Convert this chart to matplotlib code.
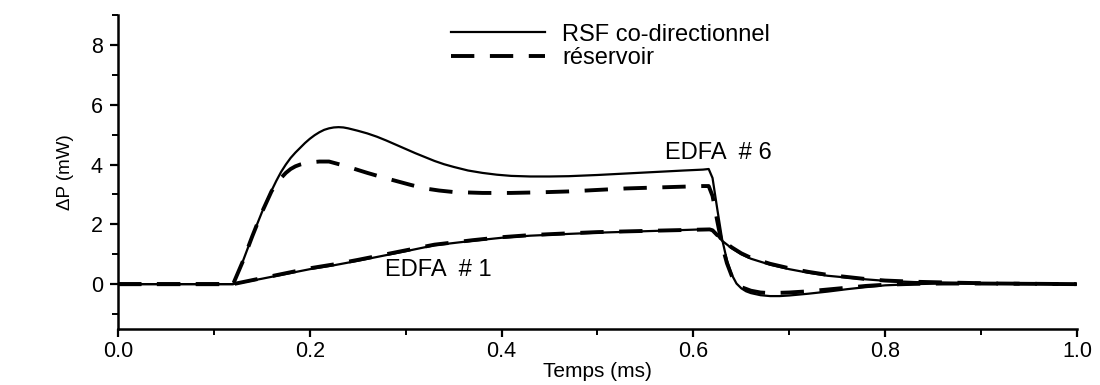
import matplotlib
matplotlib.use("Agg")
import matplotlib.pyplot as plt
from matplotlib.ticker import MultipleLocator, FormatStrFormatter

plt.rcParams['font.family'] = ['Liberation Sans', 'DejaVu Sans']

# EDFA #6, RSF co-directionnel (solid)
t_rsf6 = [0.0, 0.05, 0.10, 0.12, 0.13, 0.14, 0.15, 0.16, 0.165, 0.17, 0.175, 0.18, 0.185,
          0.19, 0.195, 0.20, 0.205, 0.21, 0.215, 0.22, 0.225, 0.23, 0.235, 0.24, 0.25,
          0.26, 0.27, 0.28, 0.29, 0.30, 0.31, 0.32, 0.33, 0.34, 0.35, 0.365, 0.38,
          0.395, 0.41, 0.43, 0.45, 0.47, 0.50, 0.53, 0.56, 0.59, 0.61, 0.616, 0.620,
          0.625, 0.630, 0.635, 0.640, 0.645, 0.650, 0.655, 0.660, 0.670, 0.680, 0.690,
          0.700, 0.720, 0.740, 0.760, 0.780, 0.800, 0.830, 0.860, 0.900, 0.950, 1.0]
p_rsf6 = [0.0, 0.0, 0.0, 0.0, 0.75, 1.6, 2.4, 3.12, 3.45, 3.75, 4.0, 4.22, 4.4,
          4.56, 4.72, 4.86, 4.98, 5.08, 5.16, 5.21, 5.24, 5.25, 5.24, 5.21, 5.13,
          5.04, 4.93, 4.8, 4.66, 4.52, 4.38, 4.25, 4.12, 4.01, 3.92, 3.8, 3.72,
          3.66, 3.62, 3.6, 3.6, 3.61, 3.65, 3.7, 3.75, 3.8, 3.83, 3.85, 3.55,
          2.5, 1.5, 0.8, 0.32, 0.02, -0.14, -0.24, -0.3, -0.37, -0.4, -0.4,
          -0.38, -0.32, -0.25, -0.17, -0.1, -0.04, 0.0, 0.02, 0.02, 0.01, 0.0]

# EDFA #6, reservoir (dashed)
t_res6 = [0.0, 0.05, 0.10, 0.12, 0.13, 0.14, 0.15, 0.16, 0.165, 0.17, 0.175, 0.18, 0.185,
          0.19, 0.195, 0.20, 0.21, 0.22, 0.235, 0.25, 0.26, 0.275, 0.29, 0.305, 0.32,
          0.335, 0.35, 0.38, 0.41, 0.44, 0.47, 0.50, 0.53, 0.56, 0.59, 0.61, 0.616,
          0.620, 0.625, 0.630, 0.635, 0.640, 0.645, 0.650, 0.660, 0.670, 0.680, 0.700,
          0.720, 0.740, 0.760, 0.780, 0.800, 0.830, 0.860, 0.900, 0.950, 1.0]
p_res6 = [0.0, 0.0, 0.0, 0.0, 0.75, 1.6, 2.4, 3.1, 3.35, 3.55, 3.72, 3.85, 3.94,
          4.0, 4.04, 4.07, 4.1, 4.1, 3.97, 3.82, 3.72, 3.58, 3.45, 3.32, 3.2,
          3.13, 3.08, 3.05, 3.05, 3.07, 3.1, 3.15, 3.2, 3.23, 3.26, 3.28, 3.28,
          2.95, 2.1, 1.3, 0.7, 0.28, 0.03, -0.1, -0.22, -0.28, -0.3, -0.28,
          -0.24, -0.18, -0.12, -0.06, -0.02, 0.01, 0.02, 0.02, 0.01, 0.0]

# EDFA #1, RSF co-directionnel (solid)
t_rsf1 = [0.0, 0.05, 0.10, 0.12, 0.15, 0.20, 0.225, 0.25, 0.30, 0.33, 0.37, 0.40, 0.43,
          0.47, 0.50, 0.55, 0.59, 0.617, 0.62, 0.63, 0.64, 0.65, 0.66, 0.68, 0.70,
          0.72, 0.74, 0.76, 0.78, 0.80, 0.83, 0.87, 0.92, 1.0]
p_rsf1 = [0.0, 0.0, 0.0, 0.0, 0.18, 0.5, 0.63, 0.78, 1.1, 1.3, 1.45, 1.55, 1.62,
          1.68, 1.72, 1.77, 1.81, 1.84, 1.8, 1.45, 1.2, 1.0, 0.85, 0.65, 0.5,
          0.38, 0.28, 0.22, 0.16, 0.11, 0.07, 0.04, 0.02, 0.0]

# EDFA #1, reservoir (dashed)
t_res1 = [0.0, 0.05, 0.10, 0.12, 0.15, 0.20, 0.225, 0.25, 0.30, 0.33, 0.37, 0.40, 0.43,
          0.47, 0.50, 0.55, 0.59, 0.617, 0.62, 0.63, 0.64, 0.65, 0.66, 0.68, 0.70,
          0.72, 0.74, 0.76, 0.78, 0.80, 0.83, 0.87, 0.92, 1.0]
p_res1 = [0.0, 0.0, 0.0, 0.0, 0.2, 0.53, 0.66, 0.81, 1.13, 1.32, 1.47, 1.57, 1.64,
          1.7, 1.74, 1.78, 1.81, 1.83, 1.8, 1.47, 1.23, 1.03, 0.88, 0.68, 0.53,
          0.41, 0.31, 0.24, 0.17, 0.12, 0.08, 0.05, 0.02, 0.0]

legend_labels = ["RSF co-directionnel", "réservoir"]
annot_labels = ["EDFA  # 6", "EDFA  # 1"]

fig = plt.figure(figsize=(11, 3.85), dpi=100)
ax = fig.add_axes([0.1073, 0.1455, 0.8717, 0.8155])

lw_s = 1.6
lw_d = 2.8
dash = (0, (6, 4))
l1, = ax.plot(t_rsf6, p_rsf6, color='black', lw=lw_s)
l2, = ax.plot(t_res6, p_res6, color='black', lw=lw_d, linestyle=dash)
ax.plot(t_rsf1, p_rsf1, color='black', lw=lw_s)
ax.plot(t_res1, p_res1, color='black', lw=lw_d, linestyle=dash)

ax.set_xlim(0.0, 1.0)
ax.set_ylim(-1.5, 9.0)
ax.xaxis.set_major_locator(MultipleLocator(0.2))
ax.xaxis.set_minor_locator(MultipleLocator(0.1))
ax.yaxis.set_major_locator(MultipleLocator(2))
ax.yaxis.set_minor_locator(MultipleLocator(1))
ax.xaxis.set_major_formatter(FormatStrFormatter('%.1f'))
ax.spines['top'].set_visible(False)
ax.spines['right'].set_visible(False)
for s in ('left', 'bottom'):
    ax.spines[s].set_linewidth(1.8)
ax.tick_params(which='major', direction='out', length=6, width=1.6, labelsize=15.5, pad=5)
ax.tick_params(axis='x', which='major', pad=3)
ax.tick_params(which='minor', direction='out', length=4, width=1.4)

ax.set_xlabel("Temps (ms)", fontsize=15, labelpad=0)
ax.set_ylabel("ΔP (mW)", fontsize=13.5, labelpad=12)

ax.text(0.570, 4.38, annot_labels[0], fontsize=17, va='center', ha='left')
ax.text(0.278, 0.47, annot_labels[1], fontsize=17, va='center', ha='left')

ax.legend([l1, l2], legend_labels, loc='upper left', bbox_to_anchor=(0.33, 1.025),
          frameon=False, fontsize=17, handlelength=4.0, handletextpad=0.7,
          labelspacing=0.05, borderpad=0.2)

fig.savefig("out.png", dpi=100)
